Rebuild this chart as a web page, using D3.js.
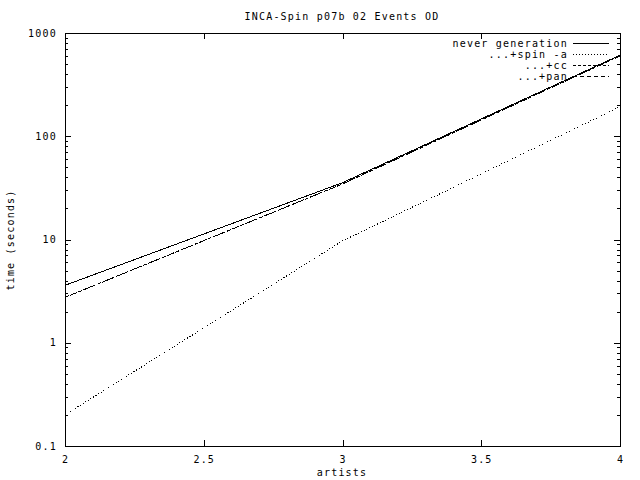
<!DOCTYPE html>
<html>
<head>
<meta charset="UTF-8">
<title>INCA-Spin p07b 02 Events OD</title>
<style>
  body { margin: 0; background: #fff; }
  svg { display: block; }
  text { font-family: "DejaVu Sans Mono", monospace; font-size: 10px; letter-spacing: 1.2px; fill: #000; }
</style>
<script src="https://d3js.org/d3.v7.min.js"></script>
</head>
<body>
<script>
const artists = [2, 3, 4];
const neverGeneration = [3.6, 35.5, 610];
const spinA = [0.2, 9.7, 193];
const plusCc = [2.75, 34.5, 600];
const plusPan = [2.75, 34.5, 602];
const xTicks = [2, 2.5, 3, 3.5, 4];
const yTicks = [0.1, 1, 10, 100, 1000];

const seriesNames = ["never generation", "...+spin -a", "...+cc", "...+pan"];
const seriesValues = [neverGeneration, spinA, plusCc, plusPan];
const dashes = [null, "1,2", "3,2", "4,3"];

const width = 640, height = 480;
const margin = {left: 65, right: 20, top: 33, bottom: 34};

const svg = d3.select("body").append("svg")
    .attr("width", width)
    .attr("height", height);

const x = d3.scaleLinear().domain([2, 4]).range([margin.left, width - margin.right]);
const y = d3.scaleLog().domain([0.1, 1000]).range([height - margin.bottom, margin.top]);

// minor ticks for log axis
const minor = [];
for (let p = -1; p < 3; p++) {
    for (let m = 2; m <= 9; m++) minor.push(m * Math.pow(10, p));
}

const g = svg.append("g").attr("shape-rendering", "crispEdges");

// left axis
g.append("g")
    .attr("transform", `translate(${margin.left},0)`)
    .call(d3.axisLeft(y).tickValues(yTicks).tickSize(-6).tickPadding(8)
        .tickFormat(d => d < 1 ? d3.format(".1f")(d) : d3.format("d")(d)))
    .call(a => a.select(".domain").remove());
g.append("g")
    .attr("transform", `translate(${margin.left},0)`)
    .call(d3.axisLeft(y).tickValues(minor).tickSize(-3).tickFormat(""))
    .call(a => a.select(".domain").remove());

// right axis mirror
g.append("g")
    .attr("transform", `translate(${width - margin.right},0)`)
    .call(d3.axisRight(y).tickValues(yTicks).tickSize(-6).tickFormat(""))
    .call(a => a.select(".domain").remove());
g.append("g")
    .attr("transform", `translate(${width - margin.right},0)`)
    .call(d3.axisRight(y).tickValues(minor).tickSize(-3).tickFormat(""))
    .call(a => a.select(".domain").remove());

// bottom axis
g.append("g")
    .attr("transform", `translate(0,${height - margin.bottom})`)
    .call(d3.axisBottom(x).tickValues(xTicks).tickSize(-6).tickPadding(10)
        .tickFormat(d3.format("")))
    .call(a => a.select(".domain").remove());
// top axis mirror
g.append("g")
    .attr("transform", `translate(0,${margin.top})`)
    .call(d3.axisTop(x).tickValues(xTicks).tickSize(-6).tickFormat(""))
    .call(a => a.select(".domain").remove());

svg.selectAll(".tick line").attr("stroke", "#000");
svg.selectAll(".tick text").attr("fill", "#000").style("font-size", "10px");

// frame
g.append("rect")
    .attr("x", margin.left)
    .attr("y", margin.top)
    .attr("width", width - margin.left - margin.right)
    .attr("height", height - margin.top - margin.bottom)
    .attr("fill", "none")
    .attr("stroke", "#000");

// lines
const line = d3.line()
    .x((d, i) => x(artists[i]))
    .y(d => y(d));

seriesValues.forEach((vals, i) => {
    svg.append("path")
        .datum(vals)
        .attr("d", line)
        .attr("fill", "none")
        .attr("stroke", "#000")
        .attr("stroke-width", 1)
        .attr("shape-rendering", "crispEdges")
        .attr("stroke-dasharray", dashes[i]);
});

// legend
const legend = svg.append("g");
seriesNames.forEach((name, i) => {
    const ly = 43 + i * 11;
    legend.append("text")
        .attr("x", 568)
        .attr("y", ly)
        .attr("dy", "0.35em")
        .attr("text-anchor", "end")
        .text(name);
    legend.append("line")
        .attr("x1", 573).attr("x2", 609)
        .attr("y1", ly + 0.5).attr("y2", ly + 0.5)
        .attr("stroke", "#000")
        .attr("shape-rendering", "crispEdges")
        .attr("stroke-dasharray", dashes[i]);
});

// titles
svg.append("text")
    .attr("x", 342).attr("y", 16)
    .attr("dy", "0.35em")
    .attr("text-anchor", "middle")
    .text("INCA-Spin p07b 02 Events OD");

svg.append("text")
    .attr("x", 342).attr("y", 472)
    .attr("dy", "0.35em")
    .attr("text-anchor", "middle")
    .text("artists");

svg.append("text")
    .attr("transform", "translate(10,240) rotate(-90)")
    .attr("dy", "0.35em")
    .attr("text-anchor", "middle")
    .text("time (seconds)");
</script>
</body>
</html>
